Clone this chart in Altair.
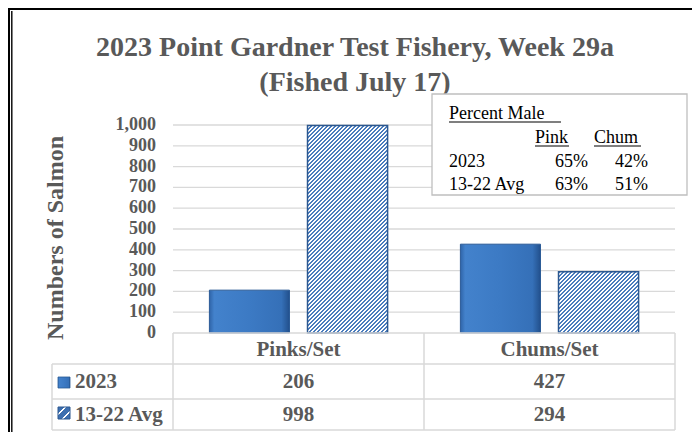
import math
import altair as alt
import pandas as pd

# ---------------- data ----------------
categories = ["Pinks/Set", "Chums/Set"]
series = ["2023", "13-22 Avg"]
values_2023 = [206, 427]
values_avg = [998, 294]
y_ticks = [0, 100, 200, 300, 400, 500, 600, 700, 800, 900, 1000]
title_lines = ["2023 Point Gardner Test Fishery, Week 29a", "(Fished July 17)"]
y_title = "Numbers of Salmon"
box_title = "Percent Male"
pct_cols = ["Pink", "Chum"]
pct_rows = ["2023", "13-22 Avg"]
pct_pink = ["65%", "63%"]
pct_chum = ["42%", "51%"]

# ---------------- layout / style ----------------
W, H = 684, 424
X0, X1 = 165, 667          # plot area (chart coords)
Y0, Y1 = 325, 117          # pixel of value 0 and value 1000
FONT = "Liberation Serif"
GRAY = "#595959"
GRID = "#d9d9d9"
P_IN, P_OUT = 0.29, 0.145
XO_IN = 0.184

df_bars = pd.DataFrame(
    [{"category": c, "series": series[0], "value": v} for c, v in zip(categories, values_2023)]
    + [{"category": c, "series": series[1], "value": v} for c, v in zip(categories, values_avg)]
)
df_ticks = pd.DataFrame({"tick": y_ticks})
df_cats = pd.DataFrame({"category": categories})
one = pd.DataFrame({"k": [0]})

x_enc = alt.X("category:N", sort=categories,
              scale=alt.Scale(domain=categories, range=[X0, X1],
                              paddingInner=P_IN, paddingOuter=P_OUT),
              axis=None)
xo_enc = alt.XOffset("series:N", sort=series,
                     scale=alt.Scale(domain=series, paddingInner=XO_IN, paddingOuter=0))
y_scale = alt.Scale(domain=[0, 1000], range=[Y0, Y1], nice=False, zero=True)


def yv(field):
    return alt.Y(field, scale=y_scale, axis=None)


# bar pixel geometry (for the fill patterns only)
step = (X1 - X0) / (len(categories) - P_IN + 2 * P_OUT)
band = step * (1 - P_IN)
bar_w = band / (2 - XO_IN) * (1 - XO_IN)
px_per_unit = (Y0 - Y1) / 1000.0


def stripes(w, h, period=4.0, duty=0.5, c1="#4a7cbd", c2="#ffffff"):
    k = (w + h) / (w * w + h * h)
    L = (w + h) / math.sqrt(2)
    P = period / math.sqrt(2)
    n = int(math.ceil(L / P)) + 1
    stops = []
    for i in range(n):
        a = min(1.0, i * P / L)
        b = min(1.0, (i + duty) * P / L)
        c = min(1.0, (i + 1) * P / L)
        stops += [(a, c1), (b, c1), (b, c2), (c, c2)]
    return alt.LinearGradient(
        gradient="linear", x1=0, y1=0, x2=w * k, y2=h * k,
        stops=[alt.GradientStop(offset=o, color=c) for o, c in stops])


grad_2023 = alt.LinearGradient(
    gradient="linear", x1=0, y1=0, x2=1, y2=0,
    stops=[alt.GradientStop(offset=0, color="#2f64a8"),
           alt.GradientStop(offset=0.06, color="#4382cc"),
           alt.GradientStop(offset=0.5, color="#3c7ac4"),
           alt.GradientStop(offset=0.9, color="#3570b8"),
           alt.GradientStop(offset=1, color="#22508c")])

layers = []

# gridlines
layers.append(
    alt.Chart(df_ticks).transform_filter("datum.tick > 0")
    .mark_rule(color=GRID, strokeWidth=1.3)
    .encode(y=yv("tick:Q"), x=alt.value(X0), x2=alt.value(X1))
)

# tick labels
layers.append(
    alt.Chart(df_ticks)
    .mark_text(align="right", baseline="middle", font=FONT, fontWeight="bold",
               fontSize=18, color=GRAY)
    .encode(y=yv("tick:Q"), x=alt.value(148), text=alt.Text("tick:Q", format=","))
)

# 2023 bars
layers.append(
    alt.Chart(df_bars).transform_filter(alt.datum.series == series[0])
    .mark_bar(fill=grad_2023, stroke="#2a5a96", strokeWidth=1)
    .encode(x=x_enc, xOffset=xo_enc, y=yv("value:Q"))
)

# average bars (hatched)
for c, v in zip(categories, values_avg):
    layers.append(
        alt.Chart(df_bars)
        .transform_filter((alt.datum.series == series[1]) & (alt.datum.category == c))
        .mark_bar(fill=stripes(bar_w, v * px_per_unit), stroke="#2c5890", strokeWidth=1.5)
        .encode(x=x_enc, xOffset=xo_enc, y=yv("value:Q"))
    )


def hrule(x_a, x_b, y, color=GRID, w=1.5):
    return alt.Chart(one).mark_rule(color=color, strokeWidth=w).encode(
        x=alt.value(x_a), x2=alt.value(x_b), y=alt.value(y))


def vrule(x, y_a, y_b, color=GRID, w=1.5):
    return alt.Chart(one).mark_rule(color=color, strokeWidth=w).encode(
        x=alt.value(x), y=alt.value(y_a), y2=alt.value(y_b))


# data table grid
TL = 44
R0, R1, R2, R3 = 325, 356, 391, 422
layers += [
    hrule(X0, X1, R0), hrule(TL, X1, R1), hrule(TL, X1, R2), hrule(TL, X1, R3),
    vrule(X0, R0, R3), vrule(416, R0, R3), vrule(X1, R0, R3), vrule(TL, R1, R3),
]

txt = dict(font=FONT, fontWeight="bold", fontSize=21, color=GRAY)

# header
layers.append(
    alt.Chart(df_cats).mark_text(baseline="alphabetic", **txt)
    .encode(x=x_enc, y=alt.value(348), text="category:N")
)
# values rows
for s, ypix in zip(series, [380, 413]):
    layers.append(
        alt.Chart(df_bars).transform_filter(alt.datum.series == s)
        .mark_text(baseline="alphabetic", **txt)
        .encode(x=x_enc, y=alt.value(ypix), text="value:Q")
    )
    layers.append(
        alt.Chart(pd.DataFrame({"label": [s]}))
        .mark_text(align="left", baseline="alphabetic", **txt)
        .encode(x=alt.value(67), y=alt.value(ypix), text="label:N")
    )

# legend keys
layers.append(
    alt.Chart(one).mark_rect(fill=grad_2023, stroke="#2a5a96", strokeWidth=0.8)
    .encode(x=alt.value(50), x2=alt.value(62), y=alt.value(369), y2=alt.value(380))
)
layers.append(
    alt.Chart(one).mark_rect(fill=stripes(12, 12, period=9, duty=0.7, c1="#3d6fb0"),
                             stroke="#2c5890", strokeWidth=1)
    .encode(x=alt.value(50), x2=alt.value(62), y=alt.value(399), y2=alt.value(411))
)

# title
for line, ypix in zip(title_lines, [48, 83]):
    layers.append(
        alt.Chart(pd.DataFrame({"t": [line]}))
        .mark_text(align="center", baseline="alphabetic", font=FONT, fontWeight="bold",
                   fontSize=28, color=GRAY)
        .encode(x=alt.value(347), y=alt.value(ypix), text="t:N")
    )

# y axis title
layers.append(
    alt.Chart(pd.DataFrame({"t": [y_title]}))
    .mark_text(align="center", baseline="alphabetic", angle=270, font=FONT,
               fontWeight="bold", fontSize=24, color=GRAY)
    .encode(x=alt.value(55), y=alt.value(230), text="t:N")
)

# percent male box
layers.append(
    alt.Chart(one).mark_rect(fill="white", stroke="#bfbfbf", strokeWidth=1.3)
    .encode(x=alt.value(424), x2=alt.value(679), y=alt.value(86), y2=alt.value(187))
)
bt = dict(font=FONT, fontSize=18, color="black", baseline="alphabetic")
layers.append(
    alt.Chart(pd.DataFrame({"t": [box_title]})).mark_text(align="left", **bt)
    .encode(x=alt.value(441), y=alt.value(111), text="t:N")
)
layers.append(hrule(441, 553, 114, color="black", w=1.2))
for col, xa, xb in zip(pct_cols, [527, 586], [561, 633]):
    layers.append(
        alt.Chart(pd.DataFrame({"t": [col]})).mark_text(align="left", **bt)
        .encode(x=alt.value(xa), y=alt.value(135), text="t:N")
    )
    layers.append(hrule(xa, xb, 138, color="black", w=1.2))
for r, pk, ch, ypix in zip(pct_rows, pct_pink, pct_chum, [159, 182]):
    layers.append(
        alt.Chart(pd.DataFrame({"t": [r]})).mark_text(align="left", **bt)
        .encode(x=alt.value(441), y=alt.value(ypix), text="t:N")
    )
    layers.append(
        alt.Chart(pd.DataFrame({"t": [pk]})).mark_text(align="right", **bt)
        .encode(x=alt.value(580), y=alt.value(ypix), text="t:N")
    )
    layers.append(
        alt.Chart(pd.DataFrame({"t": [ch]})).mark_text(align="right", **bt)
        .encode(x=alt.value(640), y=alt.value(ypix), text="t:N")
    )

# page border (double lines)
layers += [
    hrule(0, W, 1, color="black", w=2),
    vrule(1, 0, H, color="black", w=2),
    vrule(3.8, 3, H, color="black", w=1.4),
]

chart = (
    alt.layer(*layers)
    .properties(width=W, height=H, padding=0, autosize=alt.AutoSizeParams(type="none"))
    .configure_view(stroke=None)
)

chart.save("out.html", embed_options={"renderer": "svg", "actions": False})
